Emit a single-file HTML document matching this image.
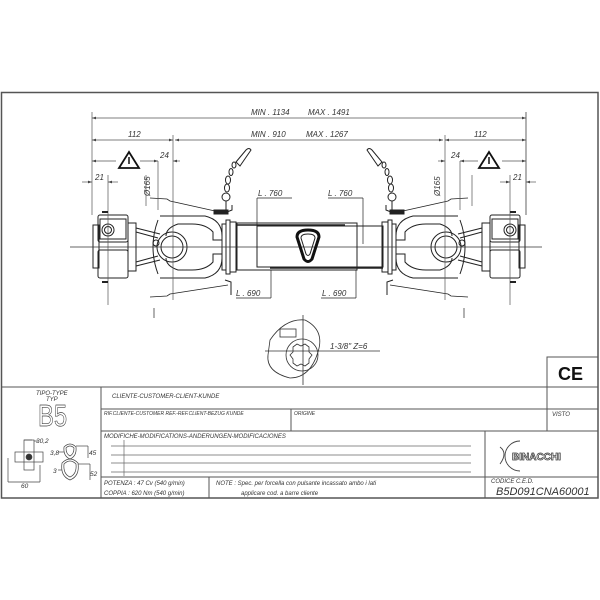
<!DOCTYPE html>
<html><head><meta charset="utf-8"><style>
html,body{margin:0;padding:0;background:#fff;}
svg{display:block;}
text{font-family:"Liberation Sans",sans-serif;font-style:italic;fill:#333;}
</style></head><body>
<svg width="600" height="600" viewBox="0 0 600 600" xmlns="http://www.w3.org/2000/svg">
<defs>
<marker id="ar" markerWidth="6" markerHeight="4" refX="6" refY="2" orient="auto-start-reverse"><path d="M0,0 L6,2 L0,4 z" fill="#444"/></marker>
<g id="half" fill="none" stroke="#222" stroke-width="1">
  <rect x="93" y="225" width="6" height="43"/>
  <rect x="98" y="215" width="30" height="27" rx="2"/>
  <rect x="98" y="250" width="30" height="28" rx="2"/>
  <rect x="100" y="219" width="26" height="20"/>
  <circle cx="108" cy="230" r="6"/>
  <circle cx="108" cy="230" r="3.5"/>
  <rect x="128" y="223" width="8" height="48"/>
  <path d="M136,228 L160,234 M136,266 L160,260 M136,232 L158,238 M136,262 L158,256"/>
  <path d="M160,216 L205,216 Q222,220 222,236 L222,240 L213,240 L213,232 Q206,224 192,224 L178,224 Q166,228 166,236 M160,278 L205,278 Q222,274 222,258 L222,254 L213,254 L213,262 Q206,270 192,270 L178,270 Q166,266 166,258"/>
  <path d="M158,220 Q148,247 158,274"/>
  <circle cx="172" cy="247" r="15"/>
  <circle cx="172" cy="247" r="11"/>
  <circle cx="156" cy="243" r="3"/>
  <rect x="222" y="224" width="4" height="46"/>
  <rect x="226" y="220" width="4" height="54"/>
  <rect x="230" y="222" width="6" height="50"/>
  <path d="M150,198 L167,199 L170,201 L215,211 L228,213" stroke-width="0.8"/>
  <path d="M150,297 L167,296 L170,294 L215,287 L228,285" stroke-width="0.8"/>
  <path d="M225,280 L231,282 L231,295 M227,212 L232,210 L232,205"/>
  <path d="M226,210 L226,201" />
  <circle cx="226" cy="197" r="4"/>
  <ellipse cx="227" cy="188" rx="2.5" ry="4"/>
  <ellipse cx="228" cy="180" rx="2.5" ry="4"/>
  <ellipse cx="231" cy="172" rx="2" ry="3.5"/>
  <ellipse cx="234" cy="165" rx="2" ry="3"/>
  <path d="M236,162 L246,150 Q249,147 251,150 L240,166 z"/>
  <path d="M214,210 L228,210 L228,214 L214,214 z" fill="#222"/>
  <path d="M92,112 L92,215 M108,175 L108,305 M173,135 L173,300 M158,161 L158,210 M146,175 L146,206" stroke="#555" stroke-width="0.7"/>
  <path d="M102,212 L108,212 M102,282 L108,282" stroke="#222" stroke-width="2"/>
  <path d="M154,308 L154,318" stroke-width="0.7"/>
</g>
</defs>
<rect x="1.5" y="92.5" width="596.5" height="405.5" fill="none" stroke="#555" stroke-width="1.5"/>
<use href="#half"/>
<use href="#half" transform="translate(618,0) scale(-1,1)"/>
<line x1="70" y1="247" x2="542" y2="247" stroke="#333" stroke-width="0.7"/>
<g fill="none" stroke="#222" stroke-width="1">
<rect x="237" y="223" width="120" height="47"/>
<rect x="257" y="226" width="126" height="41"/>
<line x1="237" y1="225" x2="345" y2="225" stroke-width="1.5"/>
<line x1="270" y1="268" x2="383" y2="268" stroke-width="1.5"/>
<path d="M297,237 Q297,230 308,230 Q319,230 319,237 L312,259 Q308,264 304,259 z" stroke-width="3" stroke="#111"/>
<path d="M301,238 Q301,234 308,234 Q315,234 315,238 L310,254 Q308,257 306,254 z"/>
<line x1="257" y1="198" x2="257" y2="244" stroke-width="0.7"/><line x1="257" y1="198" x2="292" y2="198" stroke-width="0.7"/>
<line x1="363" y1="198" x2="363" y2="244" stroke-width="0.7"/><line x1="328" y1="198" x2="363" y2="198" stroke-width="0.7"/>
<line x1="271" y1="270" x2="271" y2="298" stroke-width="0.7"/><line x1="236" y1="298" x2="271" y2="298" stroke-width="0.7"/>
<line x1="356" y1="270" x2="356" y2="298" stroke-width="0.7"/><line x1="321" y1="298" x2="356" y2="298" stroke-width="0.7"/>
</g>
<g stroke="#555" stroke-width="0.7" fill="none">
<line x1="92" y1="118" x2="526" y2="118" marker-start="url(#ar)" marker-end="url(#ar)"/>
<line x1="92" y1="140" x2="173" y2="140" marker-start="url(#ar)" marker-end="url(#ar)"/>
<line x1="175" y1="140" x2="443" y2="140" marker-start="url(#ar)" marker-end="url(#ar)"/>
<line x1="445" y1="140" x2="526" y2="140" marker-start="url(#ar)" marker-end="url(#ar)"/>
<line x1="92" y1="161" x2="116" y2="161" marker-start="url(#ar)"/>
<line x1="140" y1="161" x2="158" y2="161" marker-end="url(#ar)"/>
<line x1="173" y1="161" x2="180" y2="161" marker-start="url(#ar)"/>
<line x1="526" y1="161" x2="502" y2="161" marker-start="url(#ar)"/>
<line x1="478" y1="161" x2="460" y2="161" marker-end="url(#ar)"/>
<line x1="445" y1="161" x2="438" y2="161" marker-start="url(#ar)"/>
<line x1="82" y1="182" x2="92" y2="182" marker-end="url(#ar)"/>
<line x1="108" y1="182" x2="118" y2="182" marker-start="url(#ar)"/>
<line x1="526" y1="182" x2="536" y2="182" marker-start="url(#ar)"/>
<line x1="500" y1="182" x2="510" y2="182" marker-end="url(#ar)"/>
<line x1="526" y1="112" x2="526" y2="215"/>
</g>
<g font-size="8">
<text x="251" y="115">MIN . 1134</text><text x="308" y="115">MAX . 1491</text>
<text x="251" y="137">MIN . 910</text><text x="306" y="137">MAX . 1267</text>
<text x="128" y="137">112</text><text x="474" y="137">112</text>
<text x="160" y="158">24</text><text x="451" y="158">24</text>
<text x="95" y="180">21</text><text x="513" y="180">21</text>
<text x="258" y="196">L . 760</text><text x="328" y="196">L . 760</text>
<text x="236" y="296">L . 690</text><text x="322" y="296">L . 690</text>
<text transform="translate(150,196) rotate(-90)">Ø165</text>
<text transform="translate(440,196) rotate(-90)">Ø165</text>
<text x="330" y="349">1-3/8"  Z=6</text>
</g>
<g stroke="#111" stroke-width="1.8" fill="none">
<path d="M129,152 L139,168 L119,168 z"/><path d="M489,152 L499,168 L479,168 z"/>
</g>
<g stroke="#111" stroke-width="1.5"><line x1="129" y1="157" x2="129" y2="164"/><line x1="489" y1="157" x2="489" y2="164"/></g>
<g fill="none" stroke="#333" stroke-width="0.8">
<path d="M270,340 Q285,318 305,320 Q325,330 318,352 Q310,378 290,378 Q266,372 268,355 z"/>
<circle cx="302" cy="355" r="16"/>
<path d="M293,347 l4,-3 l4,2 l4,-2 l4,3 l0,5 l3,3 l-3,4 l0,4 l-4,3 l-4,-2 l-4,2 l-4,-3 l0,-4 l-3,-4 l3,-3 z"/>
<rect x="280" y="329" width="16" height="8"/>
<line x1="303" y1="315" x2="303" y2="385"/><line x1="265" y1="351" x2="380" y2="351"/>
</g>
<rect x="547" y="357" width="51" height="30" fill="none" stroke="#555" stroke-width="1"/>
<text x="558" y="380" font-size="18" style="font-style:normal;font-weight:bold;fill:#111">CE</text>
<g stroke="#555" stroke-width="1" fill="none">
<line x1="1" y1="387" x2="598" y2="387"/>
<line x1="101" y1="409" x2="598" y2="409"/>
<line x1="101" y1="431" x2="598" y2="431"/>
<line x1="101" y1="477" x2="598" y2="477"/>
<line x1="101" y1="387" x2="101" y2="498"/>
<line x1="291" y1="409" x2="291" y2="431"/>
<line x1="547" y1="387" x2="547" y2="431"/>
<line x1="485" y1="431" x2="485" y2="498"/>
<line x1="209" y1="477" x2="209" y2="498"/>
</g>
<g stroke="#666" stroke-width="0.7">
<line x1="111" y1="446" x2="471" y2="446"/><line x1="111" y1="455" x2="471" y2="455"/>
<line x1="111" y1="463" x2="471" y2="463"/><line x1="111" y1="472" x2="471" y2="472"/>
<line x1="124" y1="440" x2="124" y2="476"/>
</g>
<g font-size="6">
<text x="36" y="395">TIPO-TYPE</text><text x="46" y="401">TYP</text>
<text x="112" y="398">CLIENTE-CUSTOMER-CLIENT-KUNDE</text>
<text x="104" y="415" font-size="5">RIF.CLIENTE-CUSTOMER REF.-REF.CLIENT-BEZUG KUNDE</text>
<text x="294" y="415" font-size="5">ORIGINE</text>
<text x="552" y="416">VISTO</text>
<text x="104" y="438">MODIFICHE-MODIFICATIONS-ANDERUNGEN-MODIFICACIONES</text>
<text x="104" y="485">POTENZA : 47 Cv (540 g/min)</text>
<text x="104" y="495">COPPIA : 620 Nm (540 g/min)</text>
<text x="216" y="485">NOTE : Spec. per forcella con pulsante incassato ambo i lati</text>
<text x="241" y="495">applicare cod. a barre cliente</text>
<text x="491" y="483">CODICE C.E.D.</text>
</g>
<text x="38" y="426" font-size="28" transform="translate(38,426) scale(0.85,1.1) translate(-38,-426)" style="font-style:normal;fill:#fff;stroke:#444;stroke-width:0.6">B5</text>
<text x="496" y="495" font-size="11" style="fill:#333">B5D091CNA60001</text>
<g fill="none" stroke="#444" stroke-width="0.9">
<path d="M520,441 A14,14 0 1 0 520,471 M500,447 Q508,453 500,464"/>
</g>
<text x="512" y="460" font-size="10" style="font-style:normal;font-weight:bold;fill:#fff;stroke:#333;stroke-width:0.7">BINACCHI</text>
<g fill="none" stroke="#444" stroke-width="0.7">
<rect x="24" y="440" width="10" height="30"/><rect x="15" y="452" width="28" height="10"/>
<circle cx="29" cy="457" r="3" fill="#333"/>
<line x1="24" y1="440" x2="32" y2="440"/><line x1="34" y1="441" x2="38" y2="441"/>
<line x1="8" y1="458" x2="8" y2="482"/><line x1="8" y1="482" x2="40" y2="482"/><line x1="40" y1="465" x2="40" y2="482"/>
<path d="M64,447 Q70,441 76,447 Q77,456 70,459 Q63,456 64,447 z"/><path d="M66,448 Q70,444 74,448 Q74,454 70,456 Q66,454 66,448 z"/>
<path d="M62,463 Q70,455 78,463 Q80,476 70,480 Q60,476 62,463 z"/><path d="M64,464 Q70,458 76,464 Q77,474 70,477 Q63,474 64,464 z"/>
<line x1="76" y1="446" x2="88" y2="446"/><line x1="88" y1="446" x2="88" y2="458"/>
<line x1="78" y1="464" x2="90" y2="464"/><line x1="90" y1="464" x2="90" y2="480"/>
<line x1="58" y1="452" x2="64" y2="452"/><line x1="58" y1="470" x2="62" y2="470"/>
</g>
<g font-size="6.5" style="font-style:normal">
<text x="36" y="443">30,2</text><text x="50" y="455">3,8</text><text x="89" y="455">45</text>
<text x="53" y="473">3</text><text x="90" y="476">52</text><text x="21" y="488">60</text>
</g>
</svg>
</body></html>
